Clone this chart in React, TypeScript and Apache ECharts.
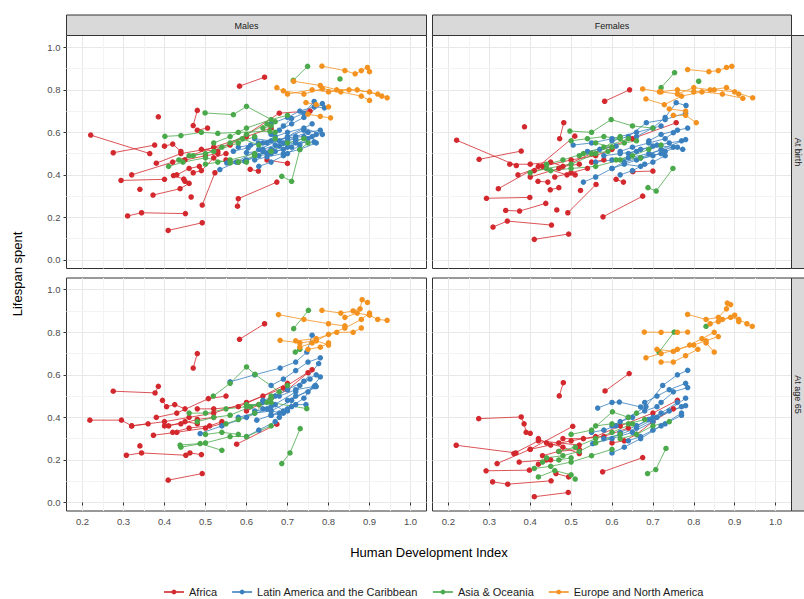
import React, { useEffect, useRef } from "react";
import * as echarts from "echarts";

// ---------- categories / ticks ----------
const regions = ["Africa", "Latin America and the Caribbean", "Asia & Oceania", "Europe and North America"];
const regionColors = ["#d3282d", "#3a80be", "#4aa94a", "#f4921f"];
const sexLabels = ["Males", "Females"];
const ageLabels = ["At birth", "At age 65"];
const xTicks = [0.2, 0.3, 0.4, 0.5, 0.6, 0.7, 0.8, 0.9, 1.0];
const yTicks = [0, 0.2, 0.4, 0.6, 0.8, 1.0];
const xMinor = [0.25, 0.35, 0.45, 0.55, 0.65, 0.75, 0.85, 0.95];
const yMinor = [0.1, 0.3, 0.5, 0.7, 0.9];

// ---------- data: trajectories [HDI, lifespan spent] ----------
// Males, at birth
const maleBirthAfrica = [
  [[0.22, 0.587], [0.364, 0.5]],
  [[0.275, 0.504], [0.376, 0.54]],
  [[0.294, 0.374], [0.4, 0.379]],
  [[0.32, 0.4], [0.42, 0.46], [0.52, 0.53], [0.6, 0.58], [0.66, 0.62]],
  [[0.31, 0.207], [0.344, 0.222], [0.451, 0.218]],
  [[0.409, 0.139], [0.492, 0.175]],
  [[0.34, 0.332]],
  [[0.372, 0.305], [0.438, 0.335], [0.46, 0.36]],
  [[0.385, 0.673]],
  [[0.465, 0.296]],
  [[0.492, 0.258], [0.523, 0.41]],
  [[0.578, 0.253], [0.58, 0.288], [0.674, 0.366]],
  [[0.583, 0.817], [0.644, 0.859]],
  [[0.47, 0.632], [0.48, 0.703]],
  [[0.609, 0.426], [0.629, 0.418]],
  [[0.65, 0.47], [0.7, 0.454]],
  [[0.422, 0.397], [0.447, 0.38], [0.45, 0.37]],
  [[0.43, 0.4], [0.46, 0.43], [0.485, 0.44]],
  [[0.4, 0.535], [0.42, 0.545], [0.44, 0.51]],
  [[0.45, 0.47], [0.5, 0.49], [0.53, 0.5]],
  [[0.47, 0.41], [0.49, 0.42], [0.52, 0.48], [0.55, 0.5]],
  [[0.38, 0.455], [0.44, 0.5], [0.56, 0.54], [0.68, 0.69], [0.755, 0.7]],
  [[0.49, 0.52], [0.53, 0.51]],
  [[0.48, 0.61], [0.505, 0.62]],
  [[0.55, 0.47], [0.58, 0.46]],
];
const maleBirthLatin = [
  [[0.535, 0.425], [0.575, 0.46], [0.63, 0.52], [0.7, 0.58], [0.76, 0.64]],
  [[0.552, 0.456], [0.6, 0.47], [0.66, 0.52], [0.72, 0.56], [0.77, 0.59]],
  [[0.568, 0.511], [0.604, 0.527], [0.629, 0.55], [0.68, 0.56], [0.74, 0.61]],
  [[0.596, 0.464], [0.63, 0.49], [0.66, 0.5], [0.7, 0.53], [0.75, 0.57]],
  [[0.6, 0.505], [0.64, 0.51], [0.68, 0.535], [0.72, 0.55], [0.765, 0.555]],
  [[0.62, 0.47], [0.65, 0.485], [0.69, 0.5], [0.73, 0.52], [0.77, 0.55]],
  [[0.64, 0.55], [0.67, 0.58], [0.7, 0.6], [0.74, 0.62], [0.785, 0.59]],
  [[0.65, 0.5], [0.67, 0.51], [0.69, 0.52], [0.71, 0.53]],
  [[0.66, 0.59], [0.69, 0.63], [0.71, 0.665], [0.74, 0.69], [0.765, 0.745]],
  [[0.68, 0.61], [0.71, 0.64], [0.74, 0.67], [0.785, 0.735]],
  [[0.62, 0.57], [0.66, 0.56], [0.7, 0.575], [0.74, 0.58]],
  [[0.63, 0.44], [0.66, 0.46], [0.69, 0.49]],
  [[0.66, 0.64], [0.7, 0.67], [0.73, 0.7], [0.765, 0.72], [0.79, 0.715]],
  [[0.69, 0.55], [0.72, 0.58], [0.75, 0.6], [0.78, 0.61]],
  [[0.7, 0.5], [0.73, 0.54], [0.76, 0.58]],
  [[0.58, 0.53], [0.61, 0.54], [0.65, 0.55]],
  [[0.64, 0.52], [0.67, 0.54], [0.7, 0.56], [0.72, 0.57]],
];
const maleBirthAsia = [
  [[0.749, 0.91], [0.714, 0.844]],
  [[0.828, 0.851]],
  [[0.499, 0.691], [0.568, 0.683], [0.6, 0.722], [0.67, 0.65]],
  [[0.401, 0.581], [0.44, 0.585], [0.49, 0.6], [0.53, 0.595], [0.58, 0.6], [0.657, 0.605]],
  [[0.41, 0.44], [0.445, 0.46], [0.5, 0.48], [0.56, 0.456], [0.6, 0.46]],
  [[0.435, 0.47], [0.47, 0.49], [0.52, 0.51], [0.58, 0.55], [0.62, 0.58]],
  [[0.686, 0.393], [0.71, 0.37], [0.73, 0.519], [0.75, 0.55]],
  [[0.46, 0.49], [0.5, 0.5], [0.54, 0.53], [0.6, 0.59], [0.65, 0.64]],
  [[0.52, 0.55], [0.56, 0.58], [0.6, 0.62], [0.66, 0.66], [0.7, 0.68]],
  [[0.56, 0.55], [0.59, 0.57], [0.63, 0.54], [0.67, 0.57]],
  [[0.58, 0.46], [0.62, 0.49], [0.66, 0.51], [0.7, 0.55], [0.74, 0.57]],
  [[0.5, 0.45], [0.53, 0.46], [0.56, 0.47], [0.62, 0.5]],
  [[0.64, 0.62], [0.66, 0.63], [0.67, 0.6]],
];
const maleBirthEurope = [
  [[0.784, 0.911], [0.84, 0.89], [0.865, 0.875], [0.88, 0.89], [0.895, 0.905], [0.9, 0.885]],
  [[0.674, 0.81], [0.7, 0.78], [0.76, 0.8], [0.8, 0.79], [0.85, 0.8], [0.9, 0.79], [0.943, 0.762]],
  [[0.715, 0.84], [0.78, 0.82], [0.82, 0.8], [0.87, 0.8], [0.92, 0.78], [0.93, 0.77]],
  [[0.69, 0.795], [0.74, 0.78], [0.785, 0.805], [0.83, 0.79], [0.88, 0.77], [0.9, 0.75]],
  [[0.745, 0.74], [0.77, 0.73], [0.8, 0.72]],
  [[0.75, 0.685], [0.78, 0.675], [0.805, 0.668]],
];

// Females, at birth
const femaleBirthAfrica = [
  [[0.22, 0.563], [0.366, 0.444]],
  [[0.275, 0.473], [0.378, 0.512]],
  [[0.322, 0.335], [0.42, 0.44], [0.509, 0.582]],
  [[0.293, 0.29], [0.399, 0.294]],
  [[0.34, 0.233], [0.374, 0.23], [0.438, 0.266]],
  [[0.309, 0.155], [0.344, 0.183], [0.452, 0.164]],
  [[0.41, 0.097], [0.494, 0.122]],
  [[0.386, 0.626]],
  [[0.482, 0.645], [0.472, 0.57]],
  [[0.582, 0.746], [0.643, 0.8]],
  [[0.578, 0.203], [0.675, 0.3]],
  [[0.492, 0.222], [0.561, 0.355]],
  [[0.465, 0.235]],
  [[0.449, 0.33], [0.47, 0.34]],
  [[0.523, 0.327]],
  [[0.419, 0.37], [0.443, 0.366]],
  [[0.61, 0.379], [0.628, 0.366]],
  [[0.651, 0.415], [0.7, 0.418]],
  [[0.35, 0.45], [0.4, 0.45], [0.45, 0.46], [0.48, 0.44], [0.52, 0.45]],
  [[0.41, 0.42], [0.44, 0.43], [0.49, 0.4], [0.51, 0.4]],
  [[0.37, 0.4], [0.43, 0.44], [0.5, 0.47], [0.56, 0.49], [0.6, 0.52]],
  [[0.4, 0.39], [0.47, 0.43], [0.55, 0.5], [0.65, 0.57], [0.757, 0.645]],
  [[0.46, 0.39], [0.5, 0.41], [0.54, 0.43]],
  [[0.55, 0.46], [0.58, 0.47]],
];
const femaleBirthLatin = [
  [[0.505, 0.54], [0.55, 0.55], [0.6, 0.57], [0.66, 0.6], [0.72, 0.63]],
  [[0.53, 0.366], [0.56, 0.39], [0.6, 0.43], [0.66, 0.47], [0.72, 0.5]],
  [[0.56, 0.46], [0.6, 0.47], [0.64, 0.48], [0.69, 0.5], [0.75, 0.53]],
  [[0.58, 0.49], [0.62, 0.5], [0.66, 0.51], [0.71, 0.54], [0.773, 0.52]],
  [[0.6, 0.43], [0.63, 0.46], [0.67, 0.48], [0.72, 0.52], [0.78, 0.566]],
  [[0.62, 0.51], [0.65, 0.53], [0.69, 0.55], [0.73, 0.57], [0.75, 0.598]],
  [[0.63, 0.45], [0.67, 0.44], [0.7, 0.46], [0.73, 0.49]],
  [[0.6, 0.56], [0.64, 0.58], [0.684, 0.645], [0.73, 0.66], [0.78, 0.69]],
  [[0.66, 0.58], [0.7, 0.62], [0.73, 0.67], [0.757, 0.739], [0.781, 0.726]],
  [[0.64, 0.5], [0.67, 0.52], [0.7, 0.535], [0.74, 0.55], [0.77, 0.56]],
  [[0.67, 0.48], [0.7, 0.49], [0.73, 0.51], [0.76, 0.53]],
  [[0.54, 0.51], [0.57, 0.52], [0.61, 0.535]],
  [[0.69, 0.56], [0.72, 0.59], [0.76, 0.61], [0.785, 0.62]],
  [[0.62, 0.4], [0.65, 0.42], [0.68, 0.45]],
];
const femaleBirthAsia = [
  [[0.753, 0.88], [0.72, 0.81]],
  [[0.812, 0.84]],
  [[0.497, 0.606], [0.55, 0.6], [0.598, 0.66], [0.65, 0.63], [0.7, 0.62]],
  [[0.4, 0.41], [0.44, 0.43], [0.5, 0.45], [0.56, 0.5], [0.62, 0.58]],
  [[0.688, 0.34], [0.708, 0.324], [0.749, 0.43]],
  [[0.44, 0.45], [0.48, 0.47], [0.53, 0.5], [0.58, 0.53], [0.64, 0.57]],
  [[0.5, 0.56], [0.54, 0.57], [0.58, 0.58], [0.62, 0.57]],
  [[0.45, 0.42], [0.5, 0.43], [0.56, 0.44], [0.62, 0.47], [0.67, 0.48]],
  [[0.56, 0.55], [0.6, 0.53], [0.63, 0.55], [0.66, 0.56]],
  [[0.61, 0.47], [0.65, 0.49], [0.69, 0.52], [0.72, 0.54]],
  [[0.52, 0.49], [0.55, 0.5], [0.59, 0.51]],
];
const femaleBirthEurope = [
  [[0.785, 0.895], [0.837, 0.885], [0.86, 0.89], [0.88, 0.905], [0.893, 0.91]],
  [[0.675, 0.804], [0.716, 0.79], [0.76, 0.8], [0.8, 0.79], [0.85, 0.8], [0.9, 0.79], [0.944, 0.762]],
  [[0.683, 0.757], [0.728, 0.73], [0.77, 0.77], [0.82, 0.79], [0.87, 0.78], [0.92, 0.76]],
  [[0.72, 0.79], [0.76, 0.78], [0.8, 0.81], [0.84, 0.8], [0.88, 0.81], [0.91, 0.78]],
  [[0.75, 0.68], [0.78, 0.68], [0.806, 0.645]],
  [[0.74, 0.71], [0.78, 0.7]],
];

// Males, at age 65
const male65Africa = [
  [[0.218, 0.387], [0.295, 0.387], [0.32, 0.36], [0.36, 0.37]],
  [[0.275, 0.523], [0.377, 0.515], [0.385, 0.546]],
  [[0.307, 0.222], [0.344, 0.233], [0.452, 0.222]],
  [[0.34, 0.266]],
  [[0.409, 0.105], [0.492, 0.136]],
  [[0.47, 0.632], [0.48, 0.7]],
  [[0.583, 0.767], [0.644, 0.84]],
  [[0.395, 0.48], [0.405, 0.45], [0.425, 0.46], [0.45, 0.44]],
  [[0.373, 0.316], [0.43, 0.33], [0.5, 0.35], [0.54, 0.37]],
  [[0.462, 0.233], [0.49, 0.225]],
  [[0.576, 0.274], [0.674, 0.368]],
  [[0.32, 0.36], [0.4, 0.38], [0.46, 0.4], [0.52, 0.42], [0.6, 0.47], [0.69, 0.538], [0.76, 0.624]],
  [[0.38, 0.4], [0.43, 0.42], [0.507, 0.488], [0.55, 0.5]],
  [[0.4, 0.36], [0.44, 0.37], [0.48, 0.39], [0.52, 0.4]],
  [[0.42, 0.33], [0.46, 0.35], [0.51, 0.36], [0.54, 0.38]],
  [[0.48, 0.44], [0.52, 0.44], [0.58, 0.45], [0.64, 0.5], [0.7, 0.56]],
  [[0.41, 0.36], [0.45, 0.38], [0.48, 0.37]],
  [[0.6, 0.43], [0.63, 0.46], [0.66, 0.49], [0.7, 0.53], [0.75, 0.61]],
];
const male65Latin = [
  [[0.487, 0.324], [0.54, 0.36], [0.6, 0.4], [0.66, 0.45], [0.72, 0.52], [0.776, 0.653]],
  [[0.56, 0.567], [0.62, 0.6], [0.682, 0.632], [0.72, 0.66], [0.747, 0.707], [0.76, 0.786]],
  [[0.625, 0.387], [0.66, 0.41], [0.7, 0.44], [0.74, 0.49], [0.78, 0.59]],
  [[0.58, 0.4], [0.62, 0.42], [0.66, 0.43], [0.71, 0.48], [0.768, 0.55]],
  [[0.6, 0.45], [0.64, 0.47], [0.68, 0.5], [0.72, 0.53], [0.765, 0.545]],
  [[0.62, 0.43], [0.65, 0.44], [0.68, 0.42], [0.71, 0.45]],
  [[0.64, 0.48], [0.67, 0.5], [0.7, 0.53], [0.74, 0.57], [0.77, 0.6]],
  [[0.66, 0.55], [0.69, 0.58], [0.72, 0.62], [0.75, 0.66], [0.78, 0.68]],
  [[0.66, 0.41], [0.69, 0.42], [0.72, 0.46], [0.745, 0.46]],
  [[0.7, 0.48], [0.72, 0.5], [0.75, 0.52], [0.77, 0.545]],
  [[0.6, 0.31], [0.63, 0.34], [0.67, 0.38]],
  [[0.68, 0.4], [0.7, 0.43], [0.73, 0.55], [0.755, 0.58]],
  [[0.64, 0.44], [0.67, 0.46], [0.69, 0.43]],
];
const male65Asia = [
  [[0.686, 0.183], [0.706, 0.233], [0.731, 0.347]],
  [[0.751, 0.903], [0.715, 0.817]],
  [[0.519, 0.5], [0.56, 0.56], [0.6, 0.637], [0.621, 0.602], [0.68, 0.52]],
  [[0.438, 0.27], [0.487, 0.277], [0.54, 0.245]],
  [[0.44, 0.26], [0.5, 0.28], [0.56, 0.31], [0.6, 0.31], [0.66, 0.36]],
  [[0.46, 0.42], [0.5, 0.42], [0.55, 0.44], [0.6, 0.45], [0.66, 0.47], [0.747, 0.441]],
  [[0.48, 0.38], [0.52, 0.4], [0.56, 0.41], [0.61, 0.45], [0.65, 0.47]],
  [[0.55, 0.37], [0.58, 0.39], [0.62, 0.42], [0.66, 0.5], [0.7, 0.55]],
  [[0.5, 0.32], [0.54, 0.33], [0.58, 0.32]],
  [[0.6, 0.46], [0.63, 0.46], [0.66, 0.49]],
  [[0.719, 0.707], [0.73, 0.72]],
];
const male65Europe = [
  [[0.678, 0.883], [0.74, 0.86], [0.8, 0.84], [0.84, 0.83]],
  [[0.784, 0.903], [0.83, 0.89], [0.86, 0.9], [0.877, 0.91], [0.882, 0.953], [0.895, 0.94]],
  [[0.682, 0.762], [0.73, 0.75], [0.77, 0.76], [0.8, 0.74]],
  [[0.73, 0.73], [0.76, 0.75], [0.8, 0.79], [0.84, 0.82], [0.88, 0.86], [0.9, 0.89]],
  [[0.72, 0.76], [0.77, 0.77], [0.82, 0.8], [0.86, 0.8], [0.88, 0.82]],
  [[0.84, 0.87], [0.87, 0.89], [0.9, 0.88], [0.92, 0.86], [0.943, 0.856]],
  [[0.75, 0.72], [0.78, 0.73], [0.8, 0.75]],
];

// Females, at age 65
const female65Africa = [
  [[0.219, 0.269], [0.365, 0.233]],
  [[0.274, 0.394], [0.378, 0.402], [0.385, 0.37], [0.39, 0.33], [0.4, 0.325]],
  [[0.319, 0.183], [0.4, 0.25], [0.504, 0.358]],
  [[0.292, 0.149], [0.398, 0.152]],
  [[0.308, 0.097], [0.345, 0.086], [0.451, 0.102]],
  [[0.41, 0.027], [0.493, 0.047]],
  [[0.471, 0.501], [0.481, 0.563]],
  [[0.583, 0.524], [0.642, 0.606]],
  [[0.577, 0.144], [0.675, 0.211]],
  [[0.463, 0.136], [0.494, 0.12]],
  [[0.373, 0.19], [0.44, 0.2]],
  [[0.42, 0.3], [0.44, 0.28], [0.48, 0.26], [0.52, 0.23]],
  [[0.36, 0.23], [0.42, 0.29], [0.47, 0.28], [0.52, 0.27]],
  [[0.4, 0.25], [0.45, 0.27], [0.5, 0.29], [0.56, 0.31], [0.62, 0.36], [0.7, 0.42], [0.76, 0.48]],
  [[0.43, 0.22], [0.47, 0.24], [0.52, 0.25]],
  [[0.48, 0.3], [0.53, 0.3], [0.58, 0.31], [0.64, 0.35]],
  [[0.6, 0.28], [0.63, 0.29], [0.66, 0.32], [0.7, 0.38], [0.75, 0.44]],
  [[0.42, 0.18], [0.45, 0.2]],
];
const female65Latin = [
  [[0.565, 0.444], [0.6, 0.47], [0.618, 0.472], [0.67, 0.449]],
  [[0.6, 0.36], [0.64, 0.4], [0.683, 0.45], [0.724, 0.55], [0.76, 0.6], [0.785, 0.621]],
  [[0.553, 0.277], [0.6, 0.3], [0.65, 0.33], [0.7, 0.38], [0.78, 0.49]],
  [[0.6, 0.233], [0.63, 0.26], [0.67, 0.3], [0.72, 0.36], [0.77, 0.42]],
  [[0.58, 0.3], [0.62, 0.32], [0.66, 0.35], [0.71, 0.4], [0.77, 0.45]],
  [[0.62, 0.33], [0.66, 0.36], [0.7, 0.4], [0.74, 0.43], [0.78, 0.455]],
  [[0.64, 0.29], [0.67, 0.31], [0.7, 0.34], [0.73, 0.37], [0.77, 0.41]],
  [[0.66, 0.36], [0.69, 0.39], [0.72, 0.42], [0.76, 0.47]],
  [[0.68, 0.47], [0.71, 0.5], [0.74, 0.53], [0.78, 0.56]],
  [[0.62, 0.38], [0.65, 0.4], [0.68, 0.43], [0.71, 0.45]],
  [[0.55, 0.33], [0.58, 0.34], [0.61, 0.36]],
  [[0.72, 0.47], [0.75, 0.52], [0.785, 0.54]],
];
const female65Asia = [
  [[0.752, 0.801], [0.715, 0.707]],
  [[0.687, 0.136], [0.707, 0.155], [0.732, 0.254]],
  [[0.41, 0.16], [0.45, 0.17], [0.5, 0.19], [0.55, 0.22], [0.6, 0.25]],
  [[0.42, 0.12], [0.46, 0.15], [0.5, 0.13], [0.51, 0.11]],
  [[0.44, 0.21], [0.48, 0.22], [0.52, 0.24], [0.56, 0.28], [0.62, 0.32]],
  [[0.47, 0.24], [0.51, 0.26], [0.56, 0.3], [0.6, 0.33], [0.65, 0.37]],
  [[0.5, 0.32], [0.55, 0.34], [0.601, 0.426], [0.64, 0.4], [0.66, 0.42]],
  [[0.43, 0.19], [0.47, 0.2], [0.5, 0.21]],
  [[0.56, 0.36], [0.6, 0.37], [0.64, 0.37], [0.68, 0.39]],
  [[0.62, 0.3], [0.66, 0.32], [0.7, 0.36], [0.74, 0.38]],
  [[0.83, 0.828]],
];
const female65Europe = [
  [[0.679, 0.801], [0.72, 0.8], [0.76, 0.8], [0.785, 0.801]],
  [[0.785, 0.884], [0.83, 0.86], [0.86, 0.87], [0.88, 0.91], [0.882, 0.937], [0.89, 0.93]],
  [[0.683, 0.68], [0.72, 0.7], [0.76, 0.72], [0.8, 0.74], [0.83, 0.76], [0.86, 0.78]],
  [[0.71, 0.72], [0.75, 0.71], [0.79, 0.74], [0.82, 0.77], [0.85, 0.8]],
  [[0.86, 0.85], [0.89, 0.87], [0.91, 0.86], [0.93, 0.84], [0.943, 0.828]],
  [[0.72, 0.66], [0.75, 0.66], [0.78, 0.69], [0.81, 0.72]],
  [[0.84, 0.84], [0.87, 0.86], [0.9, 0.88], [0.91, 0.85]],
  [[0.85, 0.707], [0.83, 0.75]],
];

// panel order: [Males birth, Females birth, Males 65, Females 65]
const panelData = [
  [maleBirthAfrica, maleBirthLatin, maleBirthAsia, maleBirthEurope],
  [femaleBirthAfrica, femaleBirthLatin, femaleBirthAsia, femaleBirthEurope],
  [male65Africa, male65Latin, male65Asia, male65Europe],
  [female65Africa, female65Latin, female65Asia, female65Europe],
];

// ---------- layout ----------
const FONT = "'Liberation Sans', Arial, Helvetica, sans-serif";
const grids = [
  { left: 66.5, top: 35.5, width: 360, height: 233 },
  { left: 432.5, top: 35.5, width: 359, height: 233 },
  { left: 66.5, top: 278, width: 360, height: 233 },
  { left: 432.5, top: 278, width: 359, height: 233 },
];

const fmt = (v: number) => {
  const r = Math.round(v * 10) / 10;
  return Math.abs(r - v) < 1e-6 ? r.toFixed(1) : "";
};

function buildOption() {
  const xAxis = grids.map((_, i) => ({
    type: "value",
    gridIndex: i,
    min: 0.161,
    max: 1.039,
    splitNumber: 8,
    axisLine: { show: false },
    axisTick: {
      show: i >= 2,
      length: 3,
      lineStyle: { color: "#333333", width: 1 },
      customValues: xTicks,
    },
    axisLabel: {
      show: i >= 2,
      customValues: xTicks,
      formatter: fmt,
      color: "#4d4d4d",
      fontSize: 9.5,
      fontFamily: FONT,
      margin: 5,
    },
    splitLine: { show: true, lineStyle: { color: "#e8e8e8", width: 1 } },
  }));
  const yAxis = grids.map((_, i) => ({
    type: "value",
    gridIndex: i,
    min: -0.04,
    max: 1.055,
    splitNumber: 5,
    axisLine: { show: false },
    axisTick: {
      show: i % 2 === 0,
      length: 3,
      lineStyle: { color: "#333333", width: 1 },
      customValues: yTicks,
    },
    axisLabel: {
      show: i % 2 === 0,
      customValues: yTicks,
      formatter: fmt,
      color: "#4d4d4d",
      fontSize: 9.5,
      fontFamily: FONT,
      margin: 6,
    },
    splitLine: { show: true, lineStyle: { color: "#e8e8e8", width: 1 } },
  }));

  const series: any[] = [];
  grids.forEach((_, i) => {
    series.push({
      type: "line",
      name: "grid-minor",
      xAxisIndex: i,
      yAxisIndex: i,
      data: [],
      silent: true,
      z: 1,
      markLine: {
        silent: true,
        z: 1,
        symbol: ["none", "none"],
        label: { show: false },
        emphasis: { disabled: true },
        lineStyle: { color: "#f3f3f3", width: 1, type: "solid" },
        data: [...xMinor.map((v) => ({ xAxis: v })), ...yMinor.map((v) => ({ yAxis: v }))],
      },
    });
  });
  panelData.forEach((regionsData, p) => {
    regionsData.forEach((trajs, r) => {
      trajs.forEach((t) => {
        series.push({
          type: "line",
          name: regions[r],
          xAxisIndex: p,
          yAxisIndex: p,
          data: t,
          z: 3,
          silent: true,
          symbol: "circle",
          symbolSize: 5.5,
          showSymbol: true,
          itemStyle: { color: regionColors[r] },
          lineStyle: { color: regionColors[r], width: 1, opacity: 0.8 },
          emphasis: { disabled: true },
        });
      });
    });
  });

  const graphic: any[] = [];
  // top strips
  [0, 1].forEach((c) => {
    const g = grids[c];
    graphic.push({
      type: "rect",
      shape: { x: g.left, y: 15, width: g.width, height: 20.5 },
      style: { fill: "#d9d9d9", stroke: "#333333", lineWidth: 1 },
      z: 10,
    });
    graphic.push({
      type: "text",
      x: g.left + g.width / 2,
      y: 25.5,
      style: { text: sexLabels[c], fill: "#1a1a1a", font: `9px ${FONT}`, textAlign: "center", textVerticalAlign: "middle" },
      z: 11,
    });
  });
  // right strips
  [1, 3].forEach((gi, r) => {
    const g = grids[gi];
    graphic.push({
      type: "rect",
      shape: { x: g.left + g.width, y: g.top, width: 22, height: g.height },
      style: { fill: "#d9d9d9", stroke: "#333333", lineWidth: 1 },
      z: 10,
    });
    graphic.push({
      type: "text",
      x: g.left + g.width + 6.5,
      y: g.top + g.height / 2,
      rotation: -Math.PI / 2,
      style: { text: ageLabels[r], fill: "#1a1a1a", font: `9px ${FONT}`, textAlign: "center", textVerticalAlign: "middle" },
      z: 11,
    });
  });
  // axis titles
  graphic.push({
    type: "text",
    x: 17,
    y: 274,
    rotation: Math.PI / 2,
    style: { text: "Lifespan spent", fill: "#000000", font: `13px ${FONT}`, textAlign: "center", textVerticalAlign: "middle" },
  });
  graphic.push({
    type: "text",
    x: 429,
    y: 552,
    style: { text: "Human Development Index", fill: "#000000", font: `13px ${FONT}`, textAlign: "center", textVerticalAlign: "middle" },
  });

  return {
    animation: false,
    backgroundColor: "#ffffff",
    textStyle: { fontFamily: FONT },
    grid: grids.map((g) => ({
      ...g,
      show: true,
      backgroundColor: "#ffffff",
      borderColor: "#333333",
      borderWidth: 1,
      containLabel: false,
    })),
    xAxis,
    yAxis,
    legend: {
      data: regions,
      left: 163,
      top: 586,
      itemWidth: 20,
      itemHeight: 6,
      itemGap: 14,
      padding: 0,
      textStyle: { fontSize: 11, lineHeight: 12, color: "#1a1a1a", fontFamily: FONT },
      selectedMode: false,
    },
    graphic,
    series,
  };
}

export default function App() {
  const ref = useRef<HTMLDivElement>(null);
  useEffect(() => {
    if (!ref.current) return;
    const chart = echarts.init(ref.current, undefined, { renderer: "svg" });
    chart.setOption(buildOption() as any);
    return () => {
      chart.dispose();
    };
  }, []);
  return (
    <div
      ref={ref}
      style={{ position: "absolute", left: 0, top: 0, width: 804, height: 599, background: "#fff" }}
    />
  );
}
